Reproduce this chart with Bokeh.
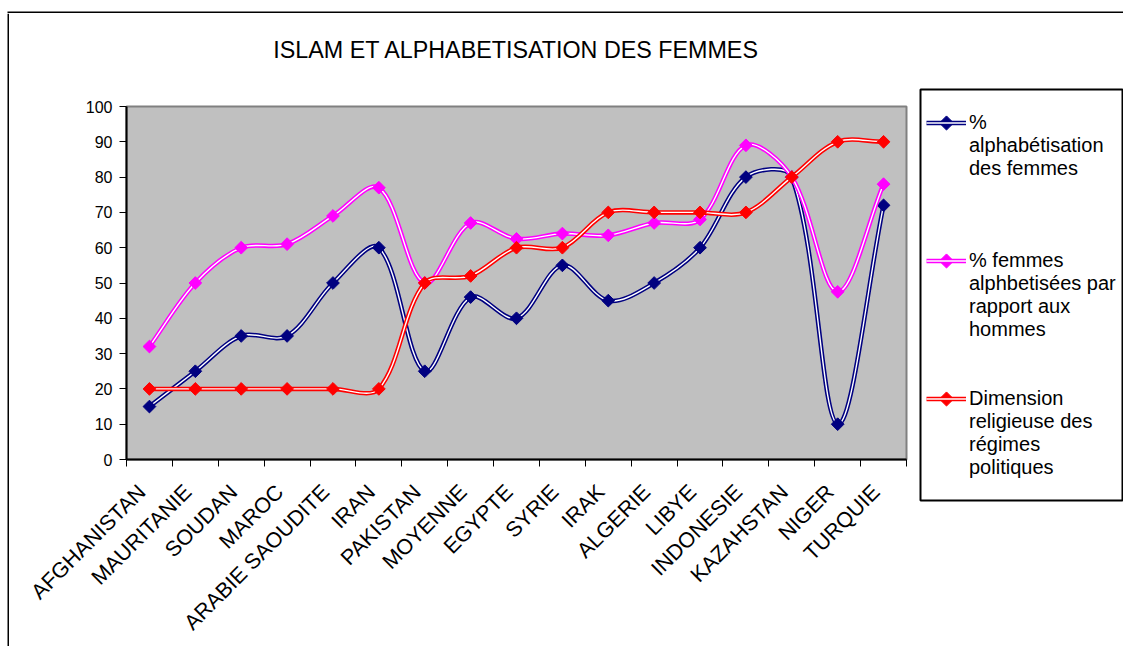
import math
import numpy as np
from bokeh.plotting import figure
from bokeh.models import (Range1d, FixedTicker, Legend, LegendItem, CustomJSTickFormatter,
                          Title)
from bokeh.layouts import row, column
from bokeh.embed import file_html
from bokeh.resources import INLINE

# ---------------- data ----------------
countries = ["AFGHANISTAN", "MAURITANIE", "SOUDAN", "MAROC", "ARABIE SAOUDITE", "IRAN",
             "PAKISTAN", "MOYENNE", "EGYPTE", "SYRIE", "IRAK", "ALGERIE", "LIBYE",
             "INDONESIE", "KAZAHSTAN", "NIGER", "TURQUIE"]
alpha_femmes = [15, 25, 35, 35, 50, 60, 25, 46, 40, 55, 45, 50, 60, 80, 80, 10, 72]
rapport_hommes = [32, 50, 60, 61, 69, 77, 50, 67, 62.5, 64, 63.5, 67, 68, 89, 80, 47.5, 78]
dimension_relig = [20, 20, 20, 20, 20, 20, 50, 52, 60, 60, 70, 70, 70, 70, 80, 90, 90]
y_ticks = [0, 10, 20, 30, 40, 50, 60, 70, 80, 90, 100]
title_text = "ISLAM ET ALPHABETISATION DES FEMMES"
legend_lines = [
    ["%", "alphabétisation", "des femmes"],
    ["% femmes", "alphbetisées par", "rapport aux", "hommes"],
    ["Dimension", "religieuse des", "régimes", "politiques"],
]
colors = ["#000080", "#FF00FF", "#FF0000"]

FONT = "Liberation Sans"
n = len(countries)
xc = [i + 0.5 for i in range(n)]
label_shift = 0.16   # rotated labels: put the label's top corner at the category centre

FRAME_W, FRAME_H = 780, 360     # plot-area size in pixels


def no_align(f):
    try:
        f.frame_align = False
    except Exception:
        pass


def blank_fig(w, h):
    f = figure(width=w, height=h, output_backend="svg", toolbar_location=None, tools="",
               x_range=Range1d(0, w), y_range=Range1d(h, 0),
               x_axis_type=None, y_axis_type=None, min_border=0, title=None)
    f.xgrid.visible = False
    f.ygrid.visible = False
    f.outline_line_color = None
    f.background_fill_color = "white"
    f.border_fill_color = "white"
    no_align(f)
    return f


# outer chart frame pieces (top line, left line)
top_fig = blank_fig(1123, 13)
top_fig.quad(left=[7], right=[1123], top=[11], bottom=[13], fill_color="black",
             line_color=None)
left_fig = blank_fig(9, 633)
left_fig.quad(left=[7], right=[9], top=[0], bottom=[633], fill_color="black",
              line_color=None)

# ---------------- main chart ----------------
p = figure(width=903, height=633, output_backend="svg", toolbar_location=None,
           x_range=Range1d(0, n), y_range=Range1d(0, 100),
           min_border_left=117, min_border_right=6, min_border_top=93,
           min_border_bottom=180, tools="")
no_align(p)
p.background_fill_color = "#C0C0C0"
p.border_fill_color = "white"
p.outline_line_color = "#808080"
p.outline_line_width = 2
p.xgrid.visible = False
p.ygrid.visible = False

# spacer between the frame and the title
p.add_layout(Title(text=" ", text_font_size="10px", standoff=21, text_color="white"),
             "above")
p.title.text = title_text
p.title.align = "center"
p.title.text_font = FONT
p.title.text_font_size = "23.3px"
p.title.text_font_style = "normal"
p.title.text_color = "black"
p.title.standoff = 20

xa = p.xaxis[0]
xa.ticker = FixedTicker(ticks=[x - label_shift for x in xc], minor_ticks=list(range(n + 1)))
xa.formatter = CustomJSTickFormatter(args=dict(names=countries),
                                     code="return names[Math.floor(tick)]")
xa.major_tick_line_color = None
xa.minor_tick_line_color = "black"
xa.minor_tick_line_width = 1
xa.minor_tick_in = 0
xa.minor_tick_out = 7
xa.axis_line_color = "black"
xa.axis_line_width = 2
xa.major_label_orientation = math.pi / 4
xa.major_label_text_font = FONT
xa.major_label_text_font_size = "21.5px"
xa.major_label_text_color = "black"
xa.major_label_standoff = 22

ya = p.yaxis[0]
ya.ticker = FixedTicker(ticks=y_ticks, minor_ticks=[])
ya.major_tick_in = 0
ya.major_tick_out = 7
ya.major_tick_line_color = "black"
ya.major_tick_line_width = 1
ya.minor_tick_line_color = None
ya.axis_line_color = "black"
ya.axis_line_width = 2
ya.major_label_text_font = FONT
ya.major_label_text_font_size = "16px"
ya.major_label_text_color = "black"
ya.major_label_standoff = 7


def bezier_data(xs, ys):
    """Smoothed-line control points (chord-length weighted Catmull-Rom, like a
    spreadsheet 'smoothed line'), distances measured in screen pixels."""
    sx = FRAME_W / n
    sy = FRAME_H / 100.0
    m = len(xs)

    def dist(i, j):
        return math.hypot((xs[j] - xs[i]) * sx, (ys[j] - ys[i]) * sy)

    d = dict(x0=[], y0=[], x1=[], y1=[], cx0=[], cy0=[], cx1=[], cy1=[])
    for i in range(m - 1):
        a = i - 1 if i > 0 else i
        b = i + 2 if i + 2 < m else i + 1
        d12 = dist(i, i + 1)
        w1 = d12 / (dist(a, i) + d12) / 3.0
        w2 = d12 / (d12 + dist(i + 1, b)) / 3.0
        d["x0"].append(xs[i]); d["y0"].append(ys[i])
        d["x1"].append(xs[i + 1]); d["y1"].append(ys[i + 1])
        d["cx0"].append(xs[i] + (xs[i + 1] - xs[a]) * w1)
        d["cy0"].append(ys[i] + (ys[i + 1] - ys[a]) * w1)
        d["cx1"].append(xs[i + 1] - (xs[b] - xs[i]) * w2)
        d["cy1"].append(ys[i + 1] - (ys[b] - ys[i]) * w2)
    return d


series = [alpha_femmes, rapport_hommes, dimension_relig]
for vals, c in zip(series, colors):
    bd = bezier_data(xc, vals)
    p.bezier(source=bd, x0="x0", y0="y0", x1="x1", y1="y1", cx0="cx0", cy0="cy0",
             cx1="cx1", cy1="cy1", line_color=c, line_width=4.5)
    p.bezier(source=bd, x0="x0", y0="y0", x1="x1", y1="y1", cx0="cx0", cy0="cy0",
             cx1="cx1", cy1="cy1", line_color="white", line_width=1.4)
    p.scatter(xc, vals, marker="square", angle=math.pi / 4, size=9,
              fill_color=c, line_color=c)

# ---------------- legend panel ----------------
LG_W, LG_H = 211, 633
LEG_X, LEG_BOTTOM, PITCH, GLYPH_W = 14, 167, 23, 40
gaps = [3, 2, 0]

lg = blank_fig(LG_W, LG_H)
lg.quad(left=[8], right=[210], top=[76], bottom=[487], fill_color="white",
        line_color="black", line_width=2)

nan = np.array([np.nan])
blank = lg.line(x=nan, y=nan, line_alpha=0)

items = []
first_idx = []
for lines, c, g in zip(legend_lines, colors, gaps):
    l1 = lg.line(x=nan, y=nan, line_color=c, line_width=4.5)
    l2 = lg.line(x=nan, y=nan, line_color="white", line_width=1.4)
    first_idx.append(len(items))
    items.append(LegendItem(label=lines[0], renderers=[l1, l2]))
    for t in lines[1:]:
        items.append(LegendItem(label=t, renderers=[blank]))
    for _ in range(g):
        items.append(LegendItem(label=" ", renderers=[blank]))

legend = Legend(items=items, location=(LEG_X, LEG_BOTTOM), orientation="vertical",
                label_text_font=FONT, label_text_font_size="20px",
                label_text_color="black", label_height=PITCH, glyph_height=PITCH,
                glyph_width=GLYPH_W, spacing=0, padding=0, margin=0, label_standoff=3,
                border_line_color=None, background_fill_alpha=0)
lg.add_layout(legend, "center")

# diamond keys centred on each legend line sample
leg_top = LG_H - LEG_BOTTOM - PITCH * len(items)
key_x = [LEG_X + GLYPH_W / 2.0] * len(colors)
key_y = [leg_top + PITCH / 2.0 + PITCH * k for k in first_idx]
lg.scatter(key_x, key_y, marker="square", angle=math.pi / 4, size=10,
           fill_color=colors, line_color=colors)

layout = column(top_fig, row(left_fig, p, lg))
open("out.html", "w").write(file_html(layout, INLINE))
